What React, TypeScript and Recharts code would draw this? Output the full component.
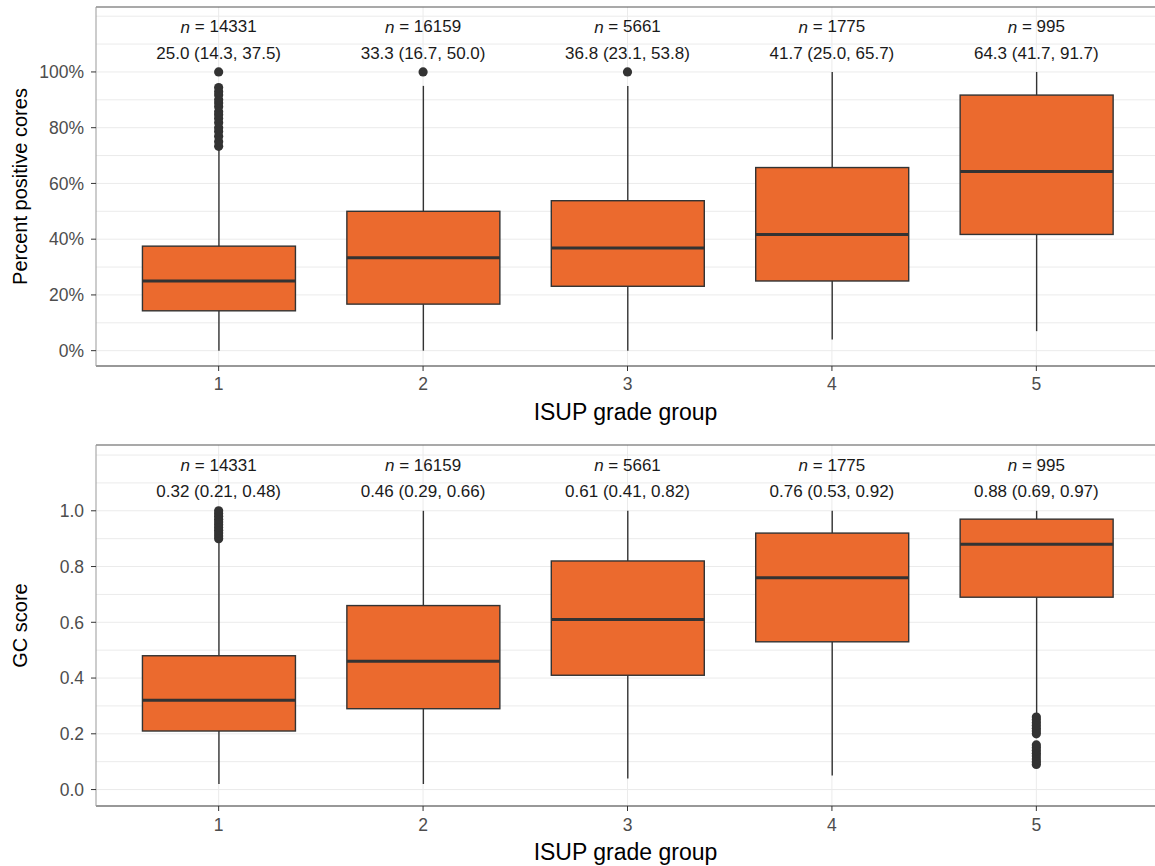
import {
  Bar,
  CartesianGrid,
  ComposedChart,
  Label,
  ReferenceLine,
  Scatter,
  XAxis,
  YAxis,
} from 'recharts'

// ISUP grade groups and sample sizes
const groups = [1, 2, 3, 4, 5]
const counts = [14331, 16159, 5661, 1775, 995]

// top panel: percent positive cores (%)
const pctLow = [0, 0, 0, 4, 7]
const pctQ1 = [14.3, 16.7, 23.1, 25.0, 41.7]
const pctMedian = [25.0, 33.3, 36.8, 41.7, 64.3]
const pctQ3 = [37.5, 50.0, 53.8, 65.7, 91.7]
const pctHigh = [72.2, 95, 95, 100, 100]
const pctOutliers = [
  [73.3, 75, 76.9, 78.6, 80, 81.8, 83.3, 84.6, 85.7, 87.5, 88.9, 90, 91.7, 92.9, 94.4, 100],
  [100],
  [100],
  [],
  [],
]
const pctStats = [
  '25.0 (14.3, 37.5)',
  '33.3 (16.7, 50.0)',
  '36.8 (23.1, 53.8)',
  '41.7 (25.0, 65.7)',
  '64.3 (41.7, 91.7)',
]
const pctTicks = [0, 20, 40, 60, 80, 100]
const pctGrid = [0, 10, 20, 30, 40, 50, 60, 70, 80, 90, 100, 110, 120]

// bottom panel: GC score
const gcLow = [0.02, 0.02, 0.04, 0.05, 0.27]
const gcQ1 = [0.21, 0.29, 0.41, 0.53, 0.69]
const gcMedian = [0.32, 0.46, 0.61, 0.76, 0.88]
const gcQ3 = [0.48, 0.66, 0.82, 0.92, 0.97]
const gcHigh = [0.885, 1, 1, 1, 1]
const gcOutliers = [
  [0.9, 0.91, 0.92, 0.93, 0.94, 0.95, 0.96, 0.97, 0.98, 0.99, 1.0],
  [],
  [],
  [],
  [0.09, 0.1, 0.11, 0.12, 0.13, 0.14, 0.15, 0.16, 0.2, 0.21, 0.22, 0.23, 0.24, 0.25, 0.26],
]
const gcStats = [
  '0.32 (0.21, 0.48)',
  '0.46 (0.29, 0.66)',
  '0.61 (0.41, 0.82)',
  '0.76 (0.53, 0.92)',
  '0.88 (0.69, 0.97)',
]
const gcTicks = [0, 0.2, 0.4, 0.6, 0.8, 1.0]
const gcGrid = [0, 0.1, 0.2, 0.3, 0.4, 0.5, 0.6, 0.7, 0.8, 0.9, 1.0, 1.1, 1.2]

const FONT = 'Arial, "Liberation Sans", Helvetica, sans-serif'
const FILL = '#EB6A2E'
const DARK = '#333333'

function buildBoxes(lo: number[], q1: number[], med: number[], q3: number[], hi: number[]) {
  return groups.map((g, i) => ({
    group: g,
    range: [lo[i], hi[i]],
    low: lo[i],
    q1: q1[i],
    median: med[i],
    q3: q3[i],
    high: hi[i],
  }))
}

function buildOutliers(list: number[][]) {
  return groups.flatMap((g, i) => list[i].map((v) => ({ group: g, value: v })))
}

function buildNotes(stats: string[], y: number) {
  return groups.map((g, i) => ({ group: g, value: y, n: counts[i], stat: stats[i] }))
}

function BoxShape(props: any) {
  const { x, y, width, height, payload } = props
  if (x == null || !payload) return null
  const top = Math.min(y, y + height)
  const bottom = Math.max(y, y + height)
  const { low, high, q1, median, q3 } = payload
  const toY = (v: number) => bottom - ((bottom - top) * (v - low)) / (high - low)
  const cx = x + width / 2
  return (
    <g>
      <line x1={cx} x2={cx} y1={toY(high)} y2={toY(q3)} stroke={DARK} strokeWidth={1.4} />
      <line x1={cx} x2={cx} y1={toY(q1)} y2={toY(low)} stroke={DARK} strokeWidth={1.4} />
      <rect
        x={x}
        y={toY(q3)}
        width={width}
        height={toY(q1) - toY(q3)}
        fill={FILL}
        stroke={DARK}
        strokeWidth={1.4}
      />
      <line x1={x} x2={x + width} y1={toY(median)} y2={toY(median)} stroke={DARK} strokeWidth={3} />
    </g>
  )
}

function OutlierShape(props: any) {
  const { cx, cy } = props
  return <circle cx={cx} cy={cy} r={4.6} fill={DARK} />
}

function NoteShape(props: any) {
  const { cx, cy, payload } = props
  return (
    <g fontFamily={FONT} fontSize={17} fill="#1a1a1a" textAnchor="middle">
      <text x={cx} y={cy} dominantBaseline="central">
        <tspan fontStyle="italic">n</tspan> = {payload.n}
      </text>
      <text x={cx} y={cy + 26.6} dominantBaseline="central">
        {payload.stat}
      </text>
    </g>
  )
}

type PanelProps = {
  height: number
  marginTop: number
  xAxisHeight: number
  tickMargin: number
  titleOffset: number
  domain: [number, number]
  ticks: number[]
  grid: number[]
  format: (v: number) => string
  yTitle: string
  boxes: any[]
  outliers: any[]
  notes: any[]
}

function Panel(p: PanelProps) {
  return (
    <ComposedChart
      width={1163}
      height={p.height}
      data={p.boxes}
      margin={{ top: p.marginTop, right: 4, bottom: 0, left: 0 }}
    >
      <CartesianGrid stroke="#EBEBEB" horizontalValues={p.grid} verticalValues={groups} />
      <XAxis
        dataKey="group"
        type="number"
        domain={[0.4, 5.6]}
        ticks={groups}
        allowDataOverflow
        height={p.xAxisHeight}
        tickSize={5}
        tickMargin={p.tickMargin}
        axisLine={{ stroke: DARK, strokeWidth: 1.2 }}
        tickLine={{ stroke: DARK }}
        tick={{ fill: '#4D4D4D', fontSize: 17.5, fontFamily: FONT }}
      >
        <Label
          content={(lp: any) => {
            const vb = lp.viewBox || {}
            const cx = (vb.x ?? 96) + (vb.width ?? 1063) / 2
            const cy = (vb.y ?? 0) + (vb.height ?? 0) - p.titleOffset
            return (
              <text
                x={cx - 2}
                y={cy}
                textAnchor="middle"
                dominantBaseline="central"
                fontFamily={FONT}
                fontSize={23}
                fill="#000"
              >
                ISUP grade group
              </text>
            )
          }}
        />
      </XAxis>
      <YAxis
        type="number"
        domain={p.domain}
        ticks={p.ticks}
        allowDataOverflow
        width={96}
        tickSize={5}
        tickMargin={7}
        tickFormatter={p.format}
        axisLine={{ stroke: '#999999' }}
        tickLine={{ stroke: DARK }}
        tick={{ fill: '#4D4D4D', fontSize: 17.5, fontFamily: FONT }}
      >
        <Label
          content={(lp: any) => {
            const vb = lp.viewBox || {}
            const cx = 20
            const cy = (vb.y ?? 0) + (vb.height ?? 0) / 2
            return (
              <text
                x={cx}
                y={cy}
                transform={`rotate(-90 ${cx} ${cy})`}
                textAnchor="middle"
                dominantBaseline="central"
                fontFamily={FONT}
                fontSize={20}
                fill="#000"
              >
                {p.yTitle}
              </text>
            )
          }}
        />
      </YAxis>
      <ReferenceLine y={p.domain[1]} stroke="#555555" strokeWidth={1.2} />
      <Bar dataKey="range" barSize={153} shape={<BoxShape />} isAnimationActive={false} />
      <Scatter
        data={p.outliers}
        dataKey="value"
        shape={<OutlierShape />}
        isAnimationActive={false}
      />
      <Scatter data={p.notes} dataKey="value" shape={<NoteShape />} isAnimationActive={false} />
    </ComposedChart>
  )
}

export default function App() {
  return (
    <div
      style={{
        position: 'absolute',
        left: 0,
        top: 0,
        width: 1155,
        height: 866,
        overflow: 'hidden',
        background: '#fff',
      }}
    >
      <Panel
        height={430}
        marginTop={7}
        xAxisHeight={64}
        tickMargin={7}
        titleOffset={18}
        domain={[-5.5, 123.3]}
        ticks={pctTicks}
        grid={pctGrid}
        format={(v) => `${v}%`}
        yTitle="Percent positive cores"
        boxes={buildBoxes(pctLow, pctQ1, pctMedian, pctQ3, pctHigh)}
        outliers={buildOutliers(pctOutliers)}
        notes={buildNotes(pctStats, 116.3)}
      />
      <Panel
        height={436}
        marginTop={15}
        xAxisHeight={60}
        tickMargin={8}
        titleOffset={14}
        domain={[-0.059, 1.236]}
        ticks={gcTicks}
        grid={gcGrid}
        format={(v) => v.toFixed(1)}
        yTitle="GC score"
        boxes={buildBoxes(gcLow, gcQ1, gcMedian, gcQ3, gcHigh)}
        outliers={buildOutliers(gcOutliers)}
        notes={buildNotes(gcStats, 1.164)}
      />
    </div>
  )
}
